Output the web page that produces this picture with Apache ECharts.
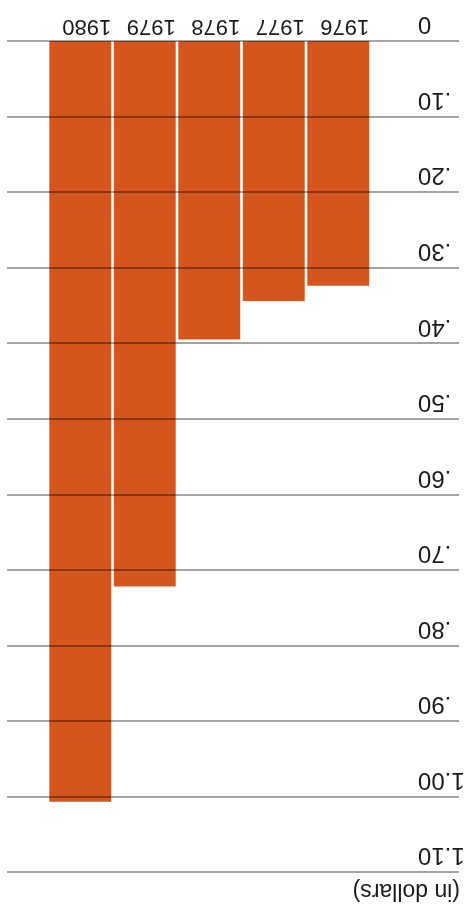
<!DOCTYPE html>
<html>
<head>
<meta charset="utf-8">
<script src="https://cdn.jsdelivr.net/npm/echarts@6/dist/echarts.min.js"></script>
<style>
html,body{margin:0;padding:0;background:#fff;}
#chart{width:473px;height:917px;}
</style>
</head>
<body>
<div id="chart"></div>
<script>
// Data (chart is printed upside down in the reference)
var years = ['1980', '1979', '1978', '1977', '1976'];
var values = [1.007, 0.722, 0.395, 0.344, 0.324];
var tickValues = [0, 0.1, 0.2, 0.3, 0.4, 0.5, 0.6, 0.7, 0.8, 0.9, 1.0, 1.1];
var axisMin = 0, axisMax = 1.1, axisStep = 0.1;
var axisTitle = '(in dollars)';

function fmt(v) {
  if (v === 0) return '0';
  var s = v.toFixed(2);
  return s.charAt(0) === '0' ? s.slice(1) : s;
}

var FONT = 'Liberation Sans';
var chart = echarts.init(document.getElementById('chart'), null, {renderer: 'canvas'});
chart.setOption({
  backgroundColor: '#ffffff',
  animation: false,
  grid: [
    {left: 7, right: 14, top: 41, bottom: 45, outerBoundsMode: 'none', containLabel: false},
    {left: 48, right: 102.5, top: 41, bottom: 45, outerBoundsMode: 'none', containLabel: false}
  ],
  xAxis: [
    {gridIndex: 0, type: 'value', min: 0, max: 1, show: false},
    {
      gridIndex: 1, type: 'category', position: 'top', data: years,
      axisLine: {show: false}, axisTick: {show: false},
      axisLabel: {
        interval: 0, hideOverlap: false,
        rotate: 180, margin: 15, color: '#1a1a1a', fontFamily: FONT, fontSize: 22,
        align: 'center', verticalAlign: 'middle', padding: [0, 13, 0, 0]
      }
    }
  ],
  yAxis: [
    {
      gridIndex: 0, type: 'value', inverse: true, position: 'right',
      min: axisMin, max: axisMax, interval: axisStep,
      axisLine: {show: false}, axisTick: {show: false},
      splitLine: {show: false},
      axisLabel: {
        inside: true, margin: 41, rotate: 180, formatter: fmt, hideOverlap: false,
        color: '#1a1a1a', fontFamily: FONT, fontSize: 24,
        align: 'right', verticalAlign: 'top', padding: [5, 0, 0, 0]
      }
    },
    {gridIndex: 1, type: 'value', inverse: true, min: axisMin, max: axisMax, show: false}
  ],
  graphic: [{
    type: 'text', x: 460, y: 890, rotation: Math.PI,
    style: {text: axisTitle, fill: '#1a1a1a', font: '23px "Liberation Sans"', textAlign: 'left', textVerticalAlign: 'middle'}
  }],
  series: [
    {
      type: 'bar', xAxisIndex: 1, yAxisIndex: 1, data: values,
      barCategoryGap: '4%', z: 0,
      itemStyle: {color: '#d4561c'}
    },
    {
      type: 'line', xAxisIndex: 0, yAxisIndex: 0, data: [], z: 10,
      markLine: {
        silent: true, symbol: ['none', 'none'], animation: false,
        label: {show: false},
        lineStyle: {type: 'solid', color: '#000000', opacity: 0.48, width: 1.5},
        data: tickValues.map(function (v) { return {yAxis: v}; })
      }
    }
  ]
});
</script>
</body>
</html>
